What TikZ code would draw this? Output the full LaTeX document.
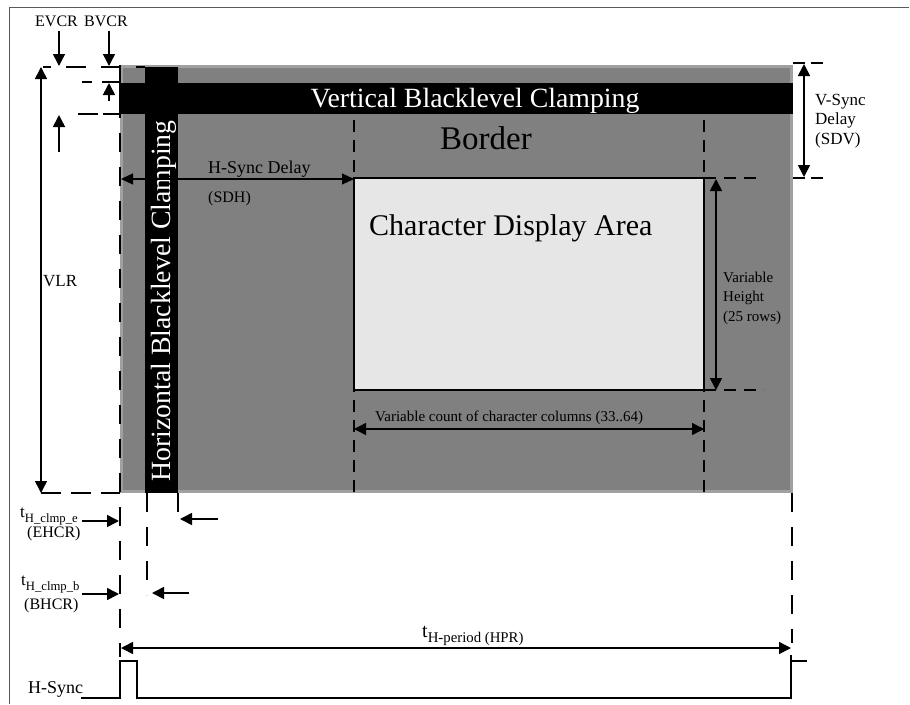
\documentclass[tikz,border=0pt]{standalone}
\usepackage{fontspec}
\setmainfont{Liberation Serif}
\usetikzlibrary{arrows.meta,calc}
\definecolor{gmid}{HTML}{808080}
\definecolor{gedge}{HTML}{A0A0A0}
\definecolor{garea}{HTML}{E6E6E6}
\begin{document}
\begin{tikzpicture}[x=1pt,y=-1pt,
  tip/.tip={Triangle[length=12pt,width=12pt]},
  ar/.style={line width=1.6pt,-tip},
  dar/.style={line width=1.6pt,tip-tip},
  thinar/.style={line width=1.1pt,{Triangle[length=12pt,width=11pt]}-{Triangle[length=12pt,width=11pt]}},
  dsh/.style={line width=1.6pt,dash pattern=on 12pt off 8pt},
  ldsh/.style={line width=1.6pt,dash pattern=on 19pt off 15pt},
  lbl/.style={inner sep=0pt,font=\fontsize{16}{19}\selectfont},
  mlbl/.style={inner sep=0pt,font=\fontsize{17}{19.5}\selectfont,align=left},
  big/.style={inner sep=0pt,font=\fontsize{30}{32}\selectfont},
  bar/.style={inner sep=0pt,font=\fontsize{27.8}{30}\selectfont,text=white},
]
\useasboundingbox (0,0) rectangle (910,704);
% frame
\draw[black!65,line width=0.9pt] (9,704) -- (9,7) -- (909,7);
% border area
\coordinate (bTL) at (120,65);
\coordinate (bBR) at (793,493);
\fill[gedge] (bTL) rectangle (bBR);
\fill[gmid] ($(bTL)+(3,3)$) rectangle ($(bBR)+(-3,-3)$);
% clamping bars
\coordinate (hbTL) at (119,83);
\coordinate (hbBR) at (793,114);
\fill[black] (hbTL) rectangle (hbBR);
\coordinate (vbTL) at (145,67);
\coordinate (vbBR) at (178,493);
\fill[black] (vbTL) rectangle (vbBR);
\node[bar,anchor=base] (vtxt) at (475,107) {Vertical Blacklevel Clamping};
\node[bar,anchor=base,rotate=90] (htxt) at (170.5,301) {Horizontal Blacklevel Clamping};
\node[big,anchor=base,font=\fontsize{33}{35}\selectfont] (border) at (486,149) {Border};
% dashed guides through border
\coordinate (c1t) at (354,120); \coordinate (c1b) at (354,493);
\coordinate (c2t) at (704,120); \coordinate (c2b) at (704,493);
\draw[dsh] (c1t) -- (c1b);
\draw[dsh] (c2t) -- (c2b);
% character display area
\coordinate (dTL) at (354,178);
\coordinate (dBR) at (704,390);
\filldraw[fill=garea,draw=black,line width=2pt] (dTL) rectangle (dBR);
\node[big,anchor=base west] (cda) at (369,235) {Character Display Area};
% top-left vertical clamping markers
\node[lbl,anchor=base west] (evcr) at (35,27) {EVCR};
\node[lbl,anchor=base west] (bvcr) at (84,27) {BVCR};
\coordinate (evcrA) at (59,31); \coordinate (evcrB) at (59,66);
\coordinate (bvcrA) at (109,31); \coordinate (bvcrB) at (109,66);
\draw[ar] (evcrA) -- (evcrB);
\draw[ar] (bvcrA) -- (bvcrB);
\coordinate (l67a) at (43,67); \coordinate (l67b) at (145,67);
\draw[line width=1.6pt,dash pattern=on 20pt off 15pt,dash phase=12pt] (l67a) -- (l67b);
\coordinate (l82a) at (82,82); \coordinate (l82b) at (119,82);
\draw[line width=1.6pt,dash pattern=on 10pt off 10pt on 18pt off 4pt] (l82a) -- (l82b);
\coordinate (l114a) at (78,114); \coordinate (l114b) at (119,114);
\draw[line width=1.6pt,dash pattern=on 20pt off 5pt] (l114a) -- (l114b);
\coordinate (upA) at (109,101); \coordinate (upB) at (109,83);
\draw[ar] (upA) -- (upB);
\coordinate (up2A) at (59,152); \coordinate (up2B) at (59,115);
\draw[ar] (up2A) -- (up2B);
% VLR
\coordinate (vlrT) at (41,67); \coordinate (vlrB) at (41,493);
\draw[dar] (vlrT) -- (vlrB);
\node[mlbl,anchor=base west] (vlr) at (43,286) {VLR};
\coordinate (l493a) at (41,493); \coordinate (l493b) at (120,493);
\draw[line width=1.6pt,dash pattern=on 20pt off 10pt] (l493a) -- (l493b);
% left vertical dashed guide
\coordinate (g120t) at (120,65); \coordinate (g120b) at (120,657);
\draw[ldsh] (g120t) -- (g120b);
\coordinate (g147t) at (147,493); \coordinate (g147b) at (147,595);
\draw[ldsh] (g147t) -- (g147b);
\coordinate (g178t) at (178,493); \coordinate (g178b) at (178,522);
\draw[ldsh] (g178t) -- (g178b);
\coordinate (g792t) at (792,493); \coordinate (g792b) at (792,643);
\draw[ldsh] (g792t) -- (g792b);
% H-Sync delay
\coordinate (sdhL) at (121,179); \coordinate (sdhR) at (354,179);
\draw[thinar] (sdhL) -- (sdhR);
\node[mlbl,anchor=base west,font=\fontsize{18}{20}\selectfont] (sdh1) at (208,173) {H-Sync Delay};
\node[lbl,anchor=base west] (sdh2) at (208,202) {(SDH)};
% V-Sync delay
\coordinate (sdvT) at (804,64); \coordinate (sdvB) at (804,177);
\draw[dar] (sdvT) -- (sdvB);
\coordinate (l63a) at (793,63); \coordinate (l63b) at (823,63);
\draw[line width=1.6pt,dash pattern=on 12pt off 6pt] (l63a) -- (l63b);
\coordinate (l178a) at (704,178); \coordinate (l178b) at (760,178);
\draw[line width=1.6pt,dash pattern=on 12pt off 8pt] (l178a) -- (l178b);
\coordinate (l178c) at (793,178); \coordinate (l178d) at (823,178);
\draw[line width=1.6pt,dash pattern=on 12pt off 6pt] (l178c) -- (l178d);
\node[mlbl,anchor=base west] (sdv) at (815,144) {V-Sync\\Delay\\(SDV)};
% variable height
\coordinate (vhT) at (716,179); \coordinate (vhB) at (716,390);
\draw[dar] (vhT) -- (vhB);
\coordinate (l390a) at (704,390); \coordinate (l390b) at (764,390);
\draw[line width=1.6pt,dash pattern=on 12pt off 8pt] (l390a) -- (l390b);
\node[inner sep=0pt,anchor=base west,align=left,font=\fontsize{15}{19.5}\selectfont] (vh) at (723,321) {Variable\\Height\\(25 rows)};
% columns
\coordinate (colL) at (354,429); \coordinate (colR) at (704,429);
\draw[dar,line width=1.4pt] (colL) -- (colR);
\node[inner sep=0pt,anchor=base west,font=\fontsize{15}{17}\selectfont] (col) at (375,421) {Variable count of character columns (33..64)};
% EHCR / BHCR
\node[lbl,anchor=base west,font=\fontsize{17}{19}\selectfont] (te) at (20,517) {t\raisebox{-5pt}{\fontsize{12.7}{13}\selectfont H\_clmp\_e}};
\node[lbl,anchor=base west] (ehcr) at (27,537) {(EHCR)};
\coordinate (eA) at (82,521); \coordinate (eB) at (119,521);
\draw[ar] (eA) -- (eB);
\coordinate (eC) at (218,519); \coordinate (eD) at (180,519);
\draw[ar] (eC) -- (eD);
\node[lbl,anchor=base west,font=\fontsize{17}{19}\selectfont] (tb) at (21,585) {t\raisebox{-5pt}{\fontsize{12.7}{13}\selectfont H\_clmp\_b}};
\node[lbl,anchor=base west] (bhcr) at (24,609) {(BHCR)};
\coordinate (bA) at (82,594); \coordinate (bB) at (119,594);
\draw[ar] (bA) -- (bB);
\coordinate (bC) at (189,593); \coordinate (bD) at (152,593);
\draw[ar] (bC) -- (bD);
% H period
\coordinate (hpL) at (121,648); \coordinate (hpR) at (791,648);
\draw[dar] (hpL) -- (hpR);
\node[inner sep=0pt,anchor=base west,font=\fontsize{20}{22}\selectfont] (hpr) at (422,637) {t\raisebox{-5pt}{\fontsize{14.8}{15}\selectfont H-period (HPR)}};
% H-Sync waveform
\node[mlbl,anchor=base west,font=\fontsize{18}{20}\selectfont] (hsync) at (28,693) {H-Sync};
\coordinate (w0) at (81,698);
\coordinate (w1) at (120,698);
\coordinate (w2) at (120,661);
\coordinate (w3) at (137,661);
\coordinate (w4) at (137,698);
\coordinate (w5) at (791,698);
\coordinate (w6) at (791,661);
\coordinate (w7) at (807,661);
\coordinate (w8) at (791,655);
\draw[line width=1.6pt] (w0) -- (w1) -- (w2) -- (w3) -- (w4) -- (w5) -- (w8);
\draw[line width=1.6pt] (w6) -- (w7);
\end{tikzpicture}
\end{document}
